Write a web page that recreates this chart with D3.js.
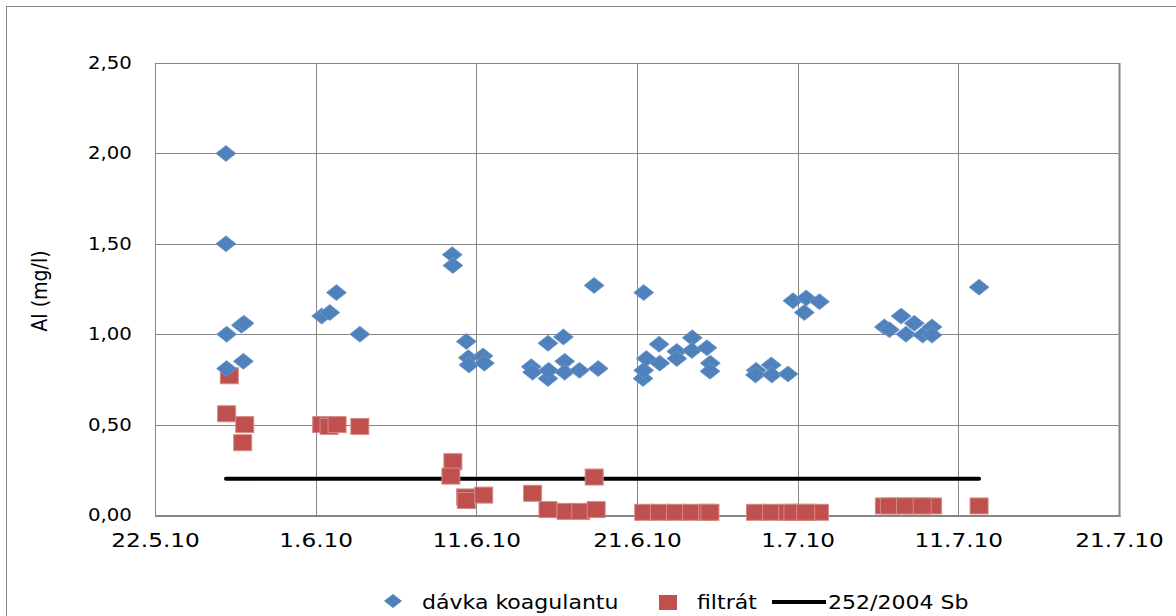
<!DOCTYPE html>
<html>
<head>
<meta charset="utf-8">
<script src="https://cdn.jsdelivr.net/npm/d3@7"></script>
<style>
  body { margin: 0; background: #fff; }
  text { font-family: "DejaVu Sans", Verdana, sans-serif; fill: #000; }
</style>
</head>
<body>
<div id="chart"></div>
<script>
// dávka koagulantu (blue diamonds)
var doseDates = ["26.5.2010 10:00","26.5.2010 10:00","26.5.2010 11:00","26.5.2010 11:00","27.5.2010 09:00","27.5.2010 13:00",
  "27.5.2010 12:00","1.6.2010 09:00","1.6.2010 21:00","2.6.2010 07:00","3.6.2010 18:00","9.6.2010 12:00","9.6.2010 13:00",
  "10.6.2010 09:00","10.6.2010 12:00","10.6.2010 13:00","11.6.2010 10:00","11.6.2010 12:00","14.6.2010 10:00","14.6.2010 12:00",
  "15.6.2010 11:00","15.6.2010 11:00","15.6.2010 12:00","16.6.2010 10:00","16.6.2010 12:00","16.6.2010 12:00","17.6.2010 10:00",
  "18.6.2010 08:00","18.6.2010 14:00","21.6.2010 09:00","21.6.2010 10:00","21.6.2010 14:00","21.6.2010 10:00","22.6.2010 09:00",
  "22.6.2010 10:00","23.6.2010 11:30","23.6.2010 11:30","24.6.2010 10:30","24.6.2010 10:00","25.6.2010 08:30","25.6.2010 13:30",
  "25.6.2010 13:00","28.6.2010 10:00","28.6.2010 09:00","29.6.2010 08:30","29.6.2010 09:30","30.6.2010 09:30","30.6.2010 17:00",
  "1.7.2010 12:45","1.7.2010 10:00","2.7.2010 08:30","6.7.2010 09:30","6.7.2010 17:00","7.7.2010 10:30","7.7.2010 17:45",
  "8.7.2010 06:15","8.7.2010 18:45","9.7.2010 08:40","9.7.2010 08:40","12.7.2010 07:00"];
var doseValues = [2.00,1.50,1.00,0.81,1.05,1.06,
  0.85,1.10,1.12,1.23,1.00,1.44,1.38,
  0.96,0.87,0.83,0.88,0.84,0.82,0.79,
  0.95,0.755,0.80,0.985,0.85,0.79,0.80,
  1.27,0.81,0.755,0.80,0.865,1.23,0.945,
  0.84,0.905,0.865,0.98,0.91,0.925,0.84,
  0.795,0.80,0.775,0.83,0.775,0.78,1.185,
  1.20,1.12,1.18,1.04,1.025,1.10,1.00,
  1.06,0.995,1.04,0.995,1.26];

// filtrát (red squares)
var filtDates = ["26.5.2010 15:00","26.5.2010 11:00","27.5.2010 14:00","27.5.2010 11:00","1.6.2010 09:00","1.6.2010 20:00",
  "2.6.2010 08:00","3.6.2010 18:00","9.6.2010 13:00","9.6.2010 10:00","10.6.2010 08:00","10.6.2010 09:00","11.6.2010 11:00",
  "14.6.2010 12:00","15.6.2010 11:00","16.6.2010 14:00","17.6.2010 12:00","18.6.2010 11:00","18.6.2010 08:00",
  "21.6.2010 10:00","22.6.2010 09:30","23.6.2010 09:30","24.6.2010 09:30","25.6.2010 09:30","25.6.2010 13:00",
  "28.6.2010 09:00","29.6.2010 09:00","30.6.2010 09:00","1.7.2010 07:00","2.7.2010 08:30","30.6.2010 17:00","1.7.2010 12:00",
  "6.7.2010 09:30","7.7.2010 09:30","8.7.2010 09:30","9.7.2010 09:30","6.7.2010 17:00","7.7.2010 17:00","8.7.2010 18:00",
  "12.7.2010 07:00"];
var filtValues = [0.77,0.56,0.50,0.40,0.50,0.49,
  0.50,0.49,0.295,0.215,0.10,0.08,0.11,
  0.12,0.03,0.02,0.02,0.03,0.21,
  0.015,0.015,0.015,0.015,0.015,0.015,
  0.015,0.015,0.015,0.015,0.015,0.015,0.015,
  0.05,0.05,0.05,0.05,0.05,0.05,0.05,
  0.05];

// 252/2004 Sb limit (black line)
var limitDates = ["26.5.2010 10:00","12.7.2010 07:00"];
var limitValues = [0.2,0.2];

var xTicks = ["22.5.2010","1.6.2010","11.6.2010","21.6.2010","1.7.2010","11.7.2010","21.7.2010"];
var yTicks = [0,0.5,1,1.5,2,2.5];

var seriesNames = ["dávka koagulantu","filtrát","252/2004 Sb"];

var width = 1176, height = 616;
var plot = {left: 155, top: 63, right: 1119, bottom: 515};
var blue = "#4F81BD", red = "#C0504D", grid = "#868686";
var stretch = 1.16;

var parseT = d3.timeParse("%d.%m.%Y %H:%M");
var parseD = d3.timeParse("%d.%m.%Y");

var svg = d3.select("#chart").append("svg")
  .attr("width", width)
  .attr("height", height);

// outer chart border
svg.append("rect")
  .attr("x", 6.5).attr("y", 6.5)
  .attr("width", 1300).attr("height", 700)
  .attr("fill", "none").attr("stroke", grid).attr("stroke-width", 1);

var x = d3.scaleTime()
  .domain([parseD(xTicks[0]), parseD(xTicks[xTicks.length-1])])
  .range([plot.left, plot.right]);

var y = d3.scaleLinear()
  .domain([0, 2.5])
  .range([plot.bottom, plot.top]);

// grid lines
svg.append("g").selectAll("line.h")
  .data(yTicks.slice(1, -1))
  .enter().append("line")
  .attr("x1", plot.left).attr("x2", plot.right)
  .attr("y1", d => Math.round(y(d)) + 0.5).attr("y2", d => Math.round(y(d)) + 0.5)
  .attr("stroke", grid);

svg.append("g").selectAll("line.v")
  .data(xTicks.slice(1, -1).map(parseD))
  .enter().append("line")
  .attr("x1", d => Math.round(x(d)) + 0.5).attr("x2", d => Math.round(x(d)) + 0.5)
  .attr("y1", plot.top).attr("y2", plot.bottom)
  .attr("stroke", grid);

// plot border
svg.append("rect")
  .attr("x", plot.left + 0.5).attr("y", plot.top + 0.5)
  .attr("width", plot.right - plot.left).attr("height", plot.bottom - plot.top)
  .attr("fill", "none").attr("stroke", grid).attr("stroke-width", 1);
svg.append("line")
  .attr("x1", plot.right + 0.5).attr("x2", plot.right + 0.5)
  .attr("y1", plot.top).attr("y2", plot.bottom + 1.5)
  .attr("stroke", grid).attr("stroke-width", 2);
svg.append("line")
  .attr("x1", plot.left).attr("x2", plot.right + 1.5)
  .attr("y1", plot.bottom + 1).attr("y2", plot.bottom + 1)
  .attr("stroke", grid).attr("stroke-width", 2);

// axes (text only)
var fmtY = v => d3.format(".2f")(v).replace(".", ",");
var fmtX = d => d3.timeFormat("%-d.%-m.%y")(d);

var yAxis = svg.append("g")
  .attr("transform", `translate(${plot.left},0)`)
  .call(d3.axisLeft(y).tickValues(yTicks).tickFormat(fmtY).tickSize(0).tickPadding(20));
yAxis.select(".domain").remove();
yAxis.selectAll("text")
  .style("font-size", "17px")
  .attr("font-family", "DejaVu Sans")
  .attr("transform", `scale(${stretch},1)`);

var xAxis = svg.append("g")
  .attr("transform", `translate(0,${plot.bottom})`)
  .call(d3.axisBottom(x).tickValues(xTicks.map(parseD)).tickFormat(fmtX).tickSize(0).tickPadding(18));
xAxis.select(".domain").remove();
xAxis.selectAll("text")
  .style("font-size", "20px")
  .attr("font-family", "DejaVu Sans")
  .attr("transform", `scale(${stretch},1)`);

// y axis title
svg.append("text")
  .attr("transform", "translate(47,291) rotate(-90) scale(1,1.16)")
  .attr("text-anchor", "middle")
  .style("font-size", "19px")
  .text("Al (mg/l)");

// limit line
var limit = limitDates.map((d, i) => ({t: parseT(d), v: limitValues[i]}));
svg.append("path")
  .datum(limit)
  .attr("fill", "none")
  .attr("stroke", "#000")
  .attr("stroke-width", 4)
  .attr("stroke-linecap", "round")
  .attr("d", d3.line().x(d => x(d.t)).y(d => y(d.v)));

// red squares
var filt = filtDates.map((d, i) => ({t: parseT(d), v: filtValues[i]}));
svg.append("g").selectAll("rect")
  .data(filt)
  .enter().append("rect")
  .attr("x", d => x(d.t) - 9)
  .attr("y", d => y(d.v) - 8)
  .attr("width", 18)
  .attr("height", 16)
  .attr("fill", red)
  .attr("stroke", "#d38a88")
  .attr("stroke-width", 1);

// blue diamonds
var dose = doseDates.map((d, i) => ({t: parseT(d), v: doseValues[i]}));
var diamond = "M0,-8L10,0L0,8L-10,0Z";
svg.append("g").selectAll("path")
  .data(dose)
  .enter().append("path")
  .attr("transform", d => `translate(${x(d.t)},${y(d.v)})`)
  .attr("d", diamond)
  .attr("fill", blue)
  .attr("stroke", "#6f98c9")
  .attr("stroke-width", 0.8);

// legend
var leg = svg.append("g");
leg.append("path")
  .attr("transform", "translate(393,601)")
  .attr("d", "M0,-7L9,0L0,7L-9,0Z")
  .attr("fill", blue);
leg.append("text")
  .attr("transform", `translate(422,609) scale(${stretch},1)`)
  .style("font-size", "19px")
  .text(seriesNames[0]);
leg.append("rect")
  .attr("x", 659).attr("y", 595).attr("width", 18).attr("height", 15)
  .attr("fill", red);
leg.append("text")
  .attr("transform", `translate(697,609) scale(${stretch},1)`)
  .style("font-size", "19px")
  .text(seriesNames[1]);
leg.append("line")
  .attr("x1", 772).attr("x2", 826).attr("y1", 602).attr("y2", 602)
  .attr("stroke", "#000").attr("stroke-width", 4);
leg.append("text")
  .attr("transform", `translate(828,609) scale(${stretch},1)`)
  .style("font-size", "19px")
  .text(seriesNames[2]);
</script>
</body>
</html>
